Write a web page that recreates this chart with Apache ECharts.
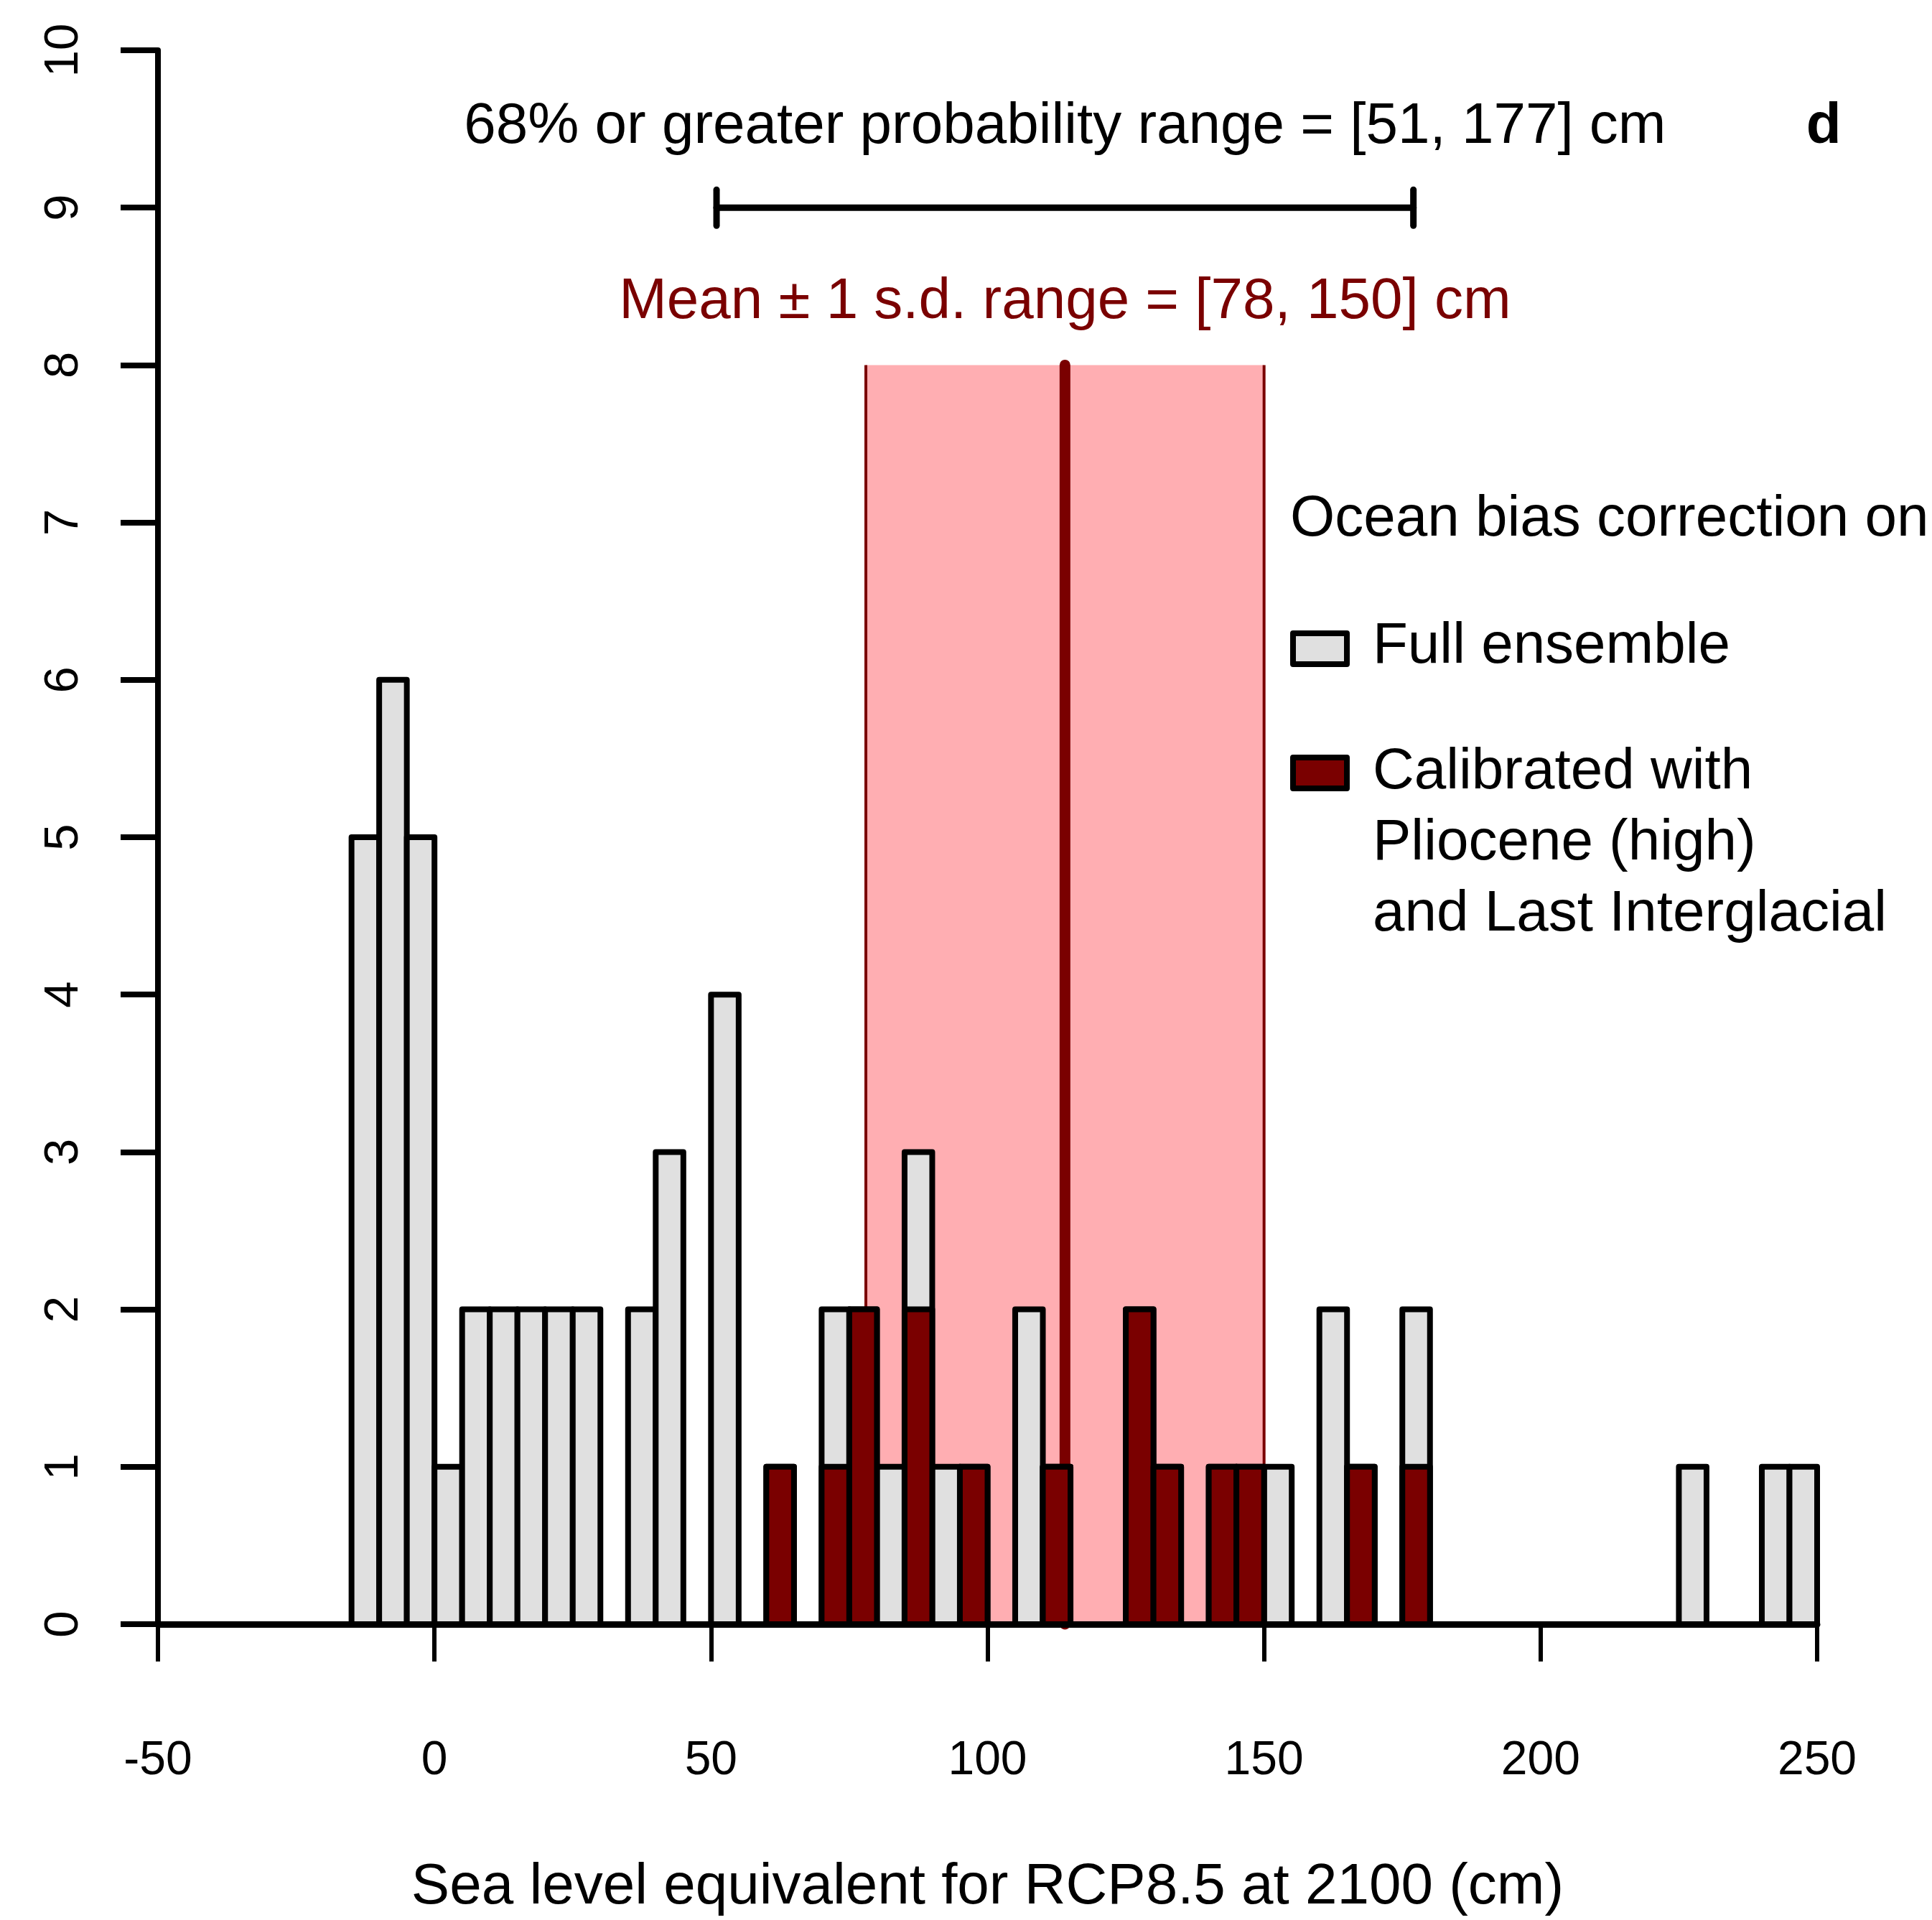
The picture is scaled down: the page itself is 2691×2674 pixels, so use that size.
<!DOCTYPE html>
<html>
<head>
<meta charset="utf-8">
<script src="https://cdn.jsdelivr.net/npm/echarts@6/dist/echarts.min.js"></script>
<style>
html,body{margin:0;padding:0;background:#fff;}
#chart{width:2691px;height:2674px;}
</style>
</head>
<body>
<div id="chart"></div>
<script>
// ---------------- DATA ----------------
const binWidth = 5;
// Full ensemble histogram (left edge of each non-empty 5 cm bin, count)
const fullBinStart = [-15, -10, -5, 0, 5, 10, 15, 20, 25, 35, 40, 50, 60, 70, 75, 80, 85, 90, 95, 105, 110, 125, 130, 140, 145, 150, 160, 165, 175, 225, 240, 245];
const fullCount    = [  5,   6,  5, 1, 2,  2,  2,  2,  2,  2,  3,  4,  1,  2,  2,  1,  3,  1,  1,   2,   1,   2,   1,   1,   1,   1,   2,   1,   2,   1,   1,   1];
// Calibrated with Pliocene (high) and Last Interglacial
const calibBinStart = [60, 70, 75, 85, 95, 110, 125, 130, 140, 145, 165, 175];
const calibCount    = [ 1,  1,  2,  2,  1,   1,   2,   1,   1,   1,   1,   1];

const prob68Range = [51, 177];     // 68% or greater probability range
const prob68Y = 9;
const meanSdRange = [78, 150];     // mean ± 1 s.d.
const meanValue = 114;
const bandTop = 8;

const xMin = -50, xMax = 250, xStep = 50;
const yMin = 0, yMax = 10, yStep = 1;

const xTitle = 'Sea level equivalent for RCP8.5 at 2100 (cm)';
const annotations = [
  {x: 114, y: 9.51, text: '68% or greater probability range = [51, 177] cm', color: '#000000', weight: 'normal'},
  {x: 114, y: 8.40, text: 'Mean \u00b1 1 s.d. range = [78, 150] cm', color: '#7A0000', weight: 'normal'},
  {x: 251.2, y: 9.51, text: 'd', color: '#000000', weight: 'bold'}
];
const legendTitle = 'Ocean bias correction on';
const legendItems = ['Full ensemble', 'Calibrated with\nPliocene (high)\nand Last Interglacial'];

// ---------------- STYLE ----------------
const FONT = '"Liberation Sans", Arial, Helvetica, sans-serif';
const GRAY = '#E0E0E0';
const DARK = '#7A0000';
const PINK = '#FFAEB2';

function barRender(params, api) {
  const x0 = api.value(0), h = api.value(1);
  const p1 = api.coord([x0, h]);
  const p2 = api.coord([x0 + binWidth, 0]);
  return {
    type: 'rect',
    shape: {x: p1[0], y: p1[1], width: p2[0] - p1[0], height: p2[1] - p1[1]},
    style: {fill: api.visual('color'), stroke: '#000', lineWidth: 8, lineJoin: 'round'}
  };
}

const chart = echarts.init(document.getElementById('chart'), null, {renderer: 'canvas'});

const option = {
  animation: false,
  backgroundColor: '#ffffff',
  grid: {left: 220, right: 160, top: 70, bottom: 411, containLabel: false},
  xAxis: {
    type: 'value', min: xMin, max: xMax, interval: xStep, z: 10,
    name: xTitle, nameLocation: 'middle', nameGap: 327,
    nameTextStyle: {fontSize: 80, color: '#000', fontFamily: FONT},
    axisLine: {show: true, onZero: false, lineStyle: {color: '#000', width: 9}},
    axisTick: {show: true, length: 52, lineStyle: {color: '#000', width: 6}},
    axisLabel: {fontSize: 66, color: '#000', fontFamily: FONT, margin: 158},
    splitLine: {show: false}
  },
  yAxis: {
    type: 'value', min: yMin, max: yMax, interval: yStep,
    axisLine: {show: true, onZero: false, lineStyle: {color: '#000', width: 8}},
    axisTick: {show: true, length: 52, lineStyle: {color: '#000', width: 8}},
    axisLabel: {fontSize: 67, color: '#000', fontFamily: FONT, rotate: 90, margin: 97},
    splitLine: {show: false}
  },
  series: [
    { // mean ± 1 s.d. band
      type: 'custom', z: 1, silent: true,
      data: [[meanSdRange[0], meanSdRange[1], bandTop]],
      renderItem: function (params, api) {
        const a = api.coord([api.value(0), api.value(2)]);
        const b = api.coord([api.value(1), 0]);
        return {type: 'group', children: [
          {type: 'rect', shape: {x: a[0], y: a[1], width: b[0] - a[0], height: b[1] - a[1]}, style: {fill: PINK}},
          {type: 'line', shape: {x1: a[0], y1: a[1], x2: a[0], y2: b[1]}, style: {stroke: DARK, lineWidth: 4}},
          {type: 'line', shape: {x1: b[0], y1: a[1], x2: b[0], y2: b[1]}, style: {stroke: DARK, lineWidth: 4}}
        ]};
      }
    },
    { // mean line
      type: 'custom', z: 2, silent: true, clip: false,
      data: [[meanValue, bandTop]],
      renderItem: function (params, api) {
        const t = api.coord([api.value(0), api.value(1)]);
        const b = api.coord([api.value(0), 0]);
        return {type: 'line', shape: {x1: t[0], y1: t[1], x2: b[0], y2: b[1]}, style: {stroke: DARK, lineWidth: 15, lineCap: 'round'}};
      }
    },
    { // full ensemble
      name: 'Full ensemble', type: 'custom', z: 3, silent: true,
      itemStyle: {color: GRAY},
      data: fullBinStart.map((s, i) => [s, fullCount[i]]),
      renderItem: barRender
    },
    { // calibrated
      name: 'Calibrated', type: 'custom', z: 4, silent: true,
      itemStyle: {color: DARK},
      data: calibBinStart.map((s, i) => [s, calibCount[i]]),
      renderItem: barRender
    },
    { // 68% range error bar
      type: 'custom', z: 5, silent: true, clip: false,
      data: [[prob68Range[0], prob68Range[1], prob68Y]],
      renderItem: function (params, api) {
        const a = api.coord([api.value(0), api.value(2)]);
        const b = api.coord([api.value(1), api.value(2)]);
        const cap = 25;
        const st = {stroke: '#000', lineWidth: 9, lineCap: 'round'};
        return {type: 'group', children: [
          {type: 'line', shape: {x1: a[0], y1: a[1], x2: b[0], y2: b[1]}, style: st},
          {type: 'line', shape: {x1: a[0], y1: a[1] - cap, x2: a[0], y2: a[1] + cap}, style: st},
          {type: 'line', shape: {x1: b[0], y1: b[1] - cap, x2: b[0], y2: b[1] + cap}, style: st}
        ]};
      }
    },
    { // text annotations
      type: 'custom', z: 6, silent: true, clip: false,
      data: annotations.map(a => [a.x, a.y]),
      renderItem: function (params, api) {
        const a = annotations[params.dataIndex];
        const p = api.coord([api.value(0), api.value(1)]);
        return {type: 'text', x: p[0], y: p[1], style: {
          text: a.text, fill: a.color, fontSize: 80, fontFamily: FONT, fontWeight: a.weight,
          align: 'center', verticalAlign: 'middle'
        }};
      }
    }
  ],
  graphic: [
    {type: 'text', x: 1797, y: 724, style: {text: legendTitle, fill: '#000', fontSize: 80, fontFamily: FONT, align: 'left', verticalAlign: 'middle'}},
    {type: 'rect', shape: {x: 1801, y: 882, width: 75, height: 43}, style: {fill: GRAY, stroke: '#000', lineWidth: 8, lineJoin: 'round'}},
    {type: 'text', x: 1912, y: 901, style: {text: legendItems[0], fill: '#000', fontSize: 80, fontFamily: FONT, align: 'left', verticalAlign: 'middle'}},
    {type: 'rect', shape: {x: 1801, y: 1055, width: 75, height: 43}, style: {fill: DARK, stroke: '#000', lineWidth: 8, lineJoin: 'round'}},
    {type: 'text', x: 1912, y: 1026, style: {text: legendItems[1], fill: '#000', fontSize: 80, lineHeight: 99, fontFamily: FONT, align: 'left', verticalAlign: 'top'}}
  ]
};
chart.setOption(option);
</script>
</body>
</html>
